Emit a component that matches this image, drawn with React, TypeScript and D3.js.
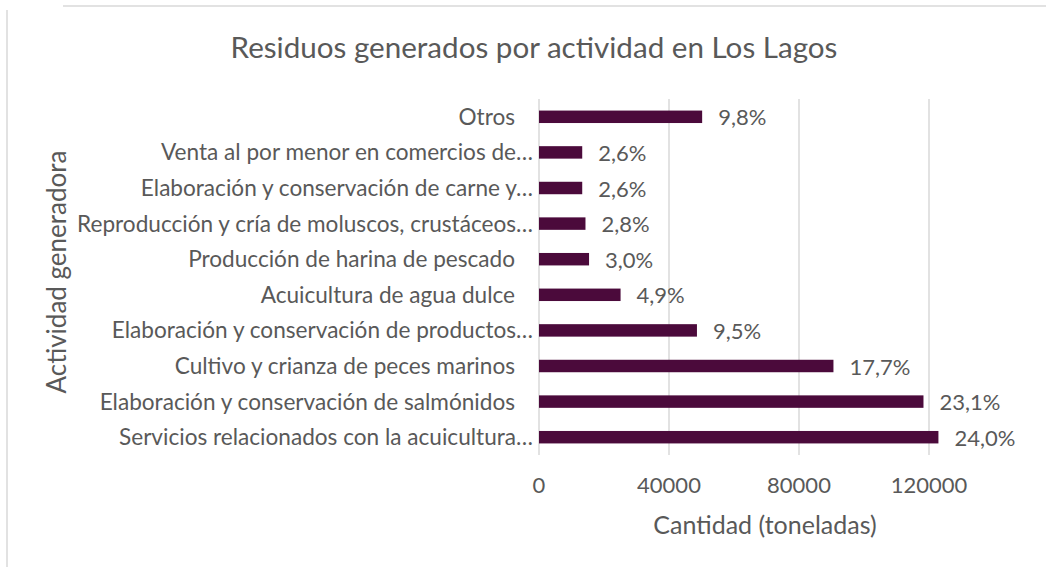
import React from 'react';
import * as d3 from 'd3';

// categories, top to bottom as drawn
const categories = [
  'Otros',
  'Venta al por menor en comercios de…',
  'Elaboración y conservación de carne y…',
  'Reproducción y cría de moluscos, crustáceos…',
  'Producción de harina de pescado',
  'Acuicultura de agua dulce',
  'Elaboración y conservación de productos…',
  'Cultivo y crianza de peces marinos',
  'Elaboración y conservación de salmónidos',
  'Servicios relacionados con la acuicultura…',
];
// toneladas
const values = [50200, 13300, 13300, 14300, 15400, 25100, 48600, 90600, 118300, 122900];
const pctLabels = ['9,8%', '2,6%', '2,6%', '2,8%', '3,0%', '4,9%', '9,5%', '17,7%', '23,1%', '24,0%'];
const xTicks = [0, 40000, 80000, 120000];

const W = 1046;
const H = 567;
const FONT = 'Lato, "Open Sans", sans-serif';
const TXT = '#595959';
const GRID = '#d9d9d9';
const BAR = '#4b0a3b';

const App = () => {
  const x = d3.scaleLinear().domain([0, 140000]).range([539, 994]);
  const y = d3
    .scaleBand<string>()
    .domain(categories)
    .range([99, 455])
    .paddingInner(0.65)
    .paddingOuter(0.325);

  return (
    <svg width={W} height={H} style={{ position: 'absolute', left: 0, top: 0 }} fontFamily={FONT}>
      <rect width={W} height={H} fill="#fff" />
      {/* chart border (cropped) */}
      <path d={`M63,6H${W}`} stroke={GRID} strokeWidth={1.5} fill="none" />
      <path d={`M7,10V${H}`} stroke={GRID} strokeWidth={1.5} fill="none" />

      <text x={534} y={58} textAnchor="middle" fontSize={29.6} fill={TXT}>
        Residuos generados por actividad en Los Lagos
      </text>

      {/* gridlines */}
      {xTicks.map((t) => (
        <line key={t} x1={x(t)} x2={x(t)} y1={99} y2={455} stroke={GRID} strokeWidth={1.5} />
      ))}

      {/* bars */}
      {categories.map((c, i) => (
        <rect
          key={c}
          x={x(0)}
          y={y(c)}
          width={x(values[i]) - x(0)}
          height={y.bandwidth()}
          fill={BAR}
        />
      ))}

      {/* category labels */}
      {categories.map((c) => (
        <text
          key={c}
          x={c.endsWith('…') ? 533 : 515}
          y={(y(c) as number) + y.bandwidth() / 2 + 8}
          textAnchor="end"
          fontSize={22.6}
          fill={TXT}
        >
          {c}
        </text>
      ))}

      {/* data labels */}
      {categories.map((c, i) => (
        <text
          key={c}
          x={x(values[i]) + 16}
          y={(y(c) as number) + y.bandwidth() / 2 + 8.5}
          fontSize={22}
          fill={TXT}
        >
          {pctLabels[i]}
        </text>
      ))}

      {/* x tick labels */}
      {xTicks.map((t) => (
        <text key={t} x={x(t)} y={493} textAnchor="middle" fontSize={22} fill={TXT}>
          {t}
        </text>
      ))}

      <text x={765} y={534} textAnchor="middle" fontSize={25} fill={TXT}>
        Cantidad (toneladas)
      </text>
      <text
        transform={`translate(66,${272}) rotate(-90)`}
        textAnchor="middle"
        fontSize={26}
        fill={TXT}
      >
        Actividad generadora
      </text>
    </svg>
  );
};

export default App;
